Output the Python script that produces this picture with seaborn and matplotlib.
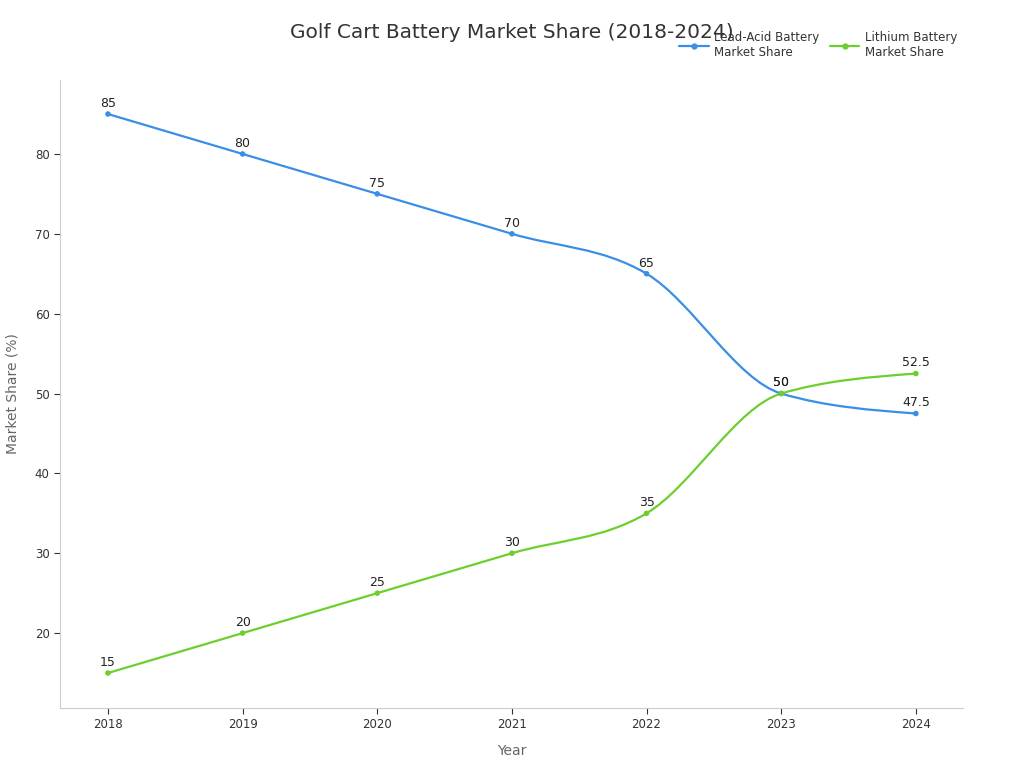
import numpy as np
import pandas as pd
import matplotlib
matplotlib.use('Agg')
import matplotlib.pyplot as plt
from matplotlib.path import Path
from matplotlib.patches import PathPatch
from matplotlib.lines import Line2D
import seaborn as sns

# 数据
years = [2018, 2019, 2020, 2021, 2022, 2023, 2024]
lead_acid = [85, 80, 75, 70, 65, 50, 47.5]
lithium = [15, 20, 25, 30, 35, 50, 52.5]
series_names = ['Lead-Acid Battery\nMarket Share', 'Lithium Battery\nMarket Share']
colors = ['#3a8ee6', '#6ccf2e']

df = pd.DataFrame({
    'Year': years * 2,
    'Share': lead_acid + lithium,
    'Series': [series_names[0]] * len(years) + [series_names[1]] * len(years),
})

sns.set_theme(style='white')
plt.rcParams['font.family'] = ['DejaVu Sans']

fig = plt.figure(figsize=(10.24, 7.68), dpi=100)
ax = fig.add_axes([60 / 1024, 1 - 708 / 768, (963 - 60) / 1024, (708 - 80) / 768])
ax.set_xlim(2018 - 0.356, 2024 + 0.35)
ax.set_ylim(10.62, 89.26)


def monotone_path(xs, ys):
    # monotoneX 曲线 (同 d3), 用三次贝塞尔画
    xs = np.asarray(xs, float)
    ys = np.asarray(ys, float)
    n = len(xs)
    h = np.diff(xs)
    s = np.diff(ys) / h
    t = np.zeros(n)
    for i in range(1, n - 1):
        p = (s[i - 1] * h[i] + s[i] * h[i - 1]) / (h[i - 1] + h[i])
        t[i] = (np.sign(s[i - 1]) + np.sign(s[i])) * min(abs(s[i - 1]), abs(s[i]), 0.5 * abs(p))
    t[0] = (3 * s[0] - t[1]) / 2
    t[-1] = (3 * s[-1] - t[-2]) / 2
    verts = [(xs[0], ys[0])]
    codes = [Path.MOVETO]
    for i in range(n - 1):
        dx = h[i] / 3
        verts += [(xs[i] + dx, ys[i] + t[i] * dx),
                  (xs[i + 1] - dx, ys[i + 1] - t[i + 1] * dx),
                  (xs[i + 1], ys[i + 1])]
        codes += [Path.CURVE4] * 3
    return Path(verts, codes)


for name, col in zip(series_names, colors):
    sub = df[df['Series'] == name]
    path = monotone_path(sub['Year'].values, sub['Share'].values)
    ax.add_patch(PathPatch(path, facecolor='none', edgecolor=col, lw=1.6, zorder=2))

sns.scatterplot(data=df, x='Year', y='Share', hue='Series', palette=colors,
                s=16, edgecolor='none', legend=False, ax=ax, zorder=3)

# 数据标签
for x, y in zip(df['Year'], df['Share']):
    ax.annotate(f'{y:g}', (x, y), xytext=(0, 3), textcoords='offset points',
                ha='center', va='bottom', fontsize=9, color='#222222')

ax.set_xticks(years)
ax.set_yticks(range(20, 90, 10))
ax.tick_params(axis='both', labelsize=8.5, colors='#333333', length=4, width=0.8,
               direction='out', bottom=True, left=True)
for side in ['top', 'right']:
    ax.spines[side].set_visible(False)
for side in ['left', 'bottom']:
    ax.spines[side].set_color('#cccccc')
    ax.spines[side].set_linewidth(0.8)

ax.set_xlabel('Year', fontsize=10, color='#666666', labelpad=9)
ax.set_ylabel('Market Share (%)', fontsize=10, color='#666666', labelpad=11)
ax.grid(False)

fig.text(512 / 1024, 1 - 33 / 768, 'Golf Cart Battery Market Share (2018-2024)',
         ha='center', va='center', fontsize=14.5, color='#333333')

handles = [Line2D([0], [0], color=c, lw=1.6, marker='o', markersize=3.5) for c in colors]
fig.legend(handles, series_names, loc='upper right', bbox_to_anchor=(957 / 1024, 1 - 31 / 768),
           ncol=2, frameon=False, fontsize=8.5, handlelength=2.5, handletextpad=0.45,
           columnspacing=0.9, borderpad=0, borderaxespad=0, labelcolor='#333333')

fig.savefig('out.png', dpi=100)
